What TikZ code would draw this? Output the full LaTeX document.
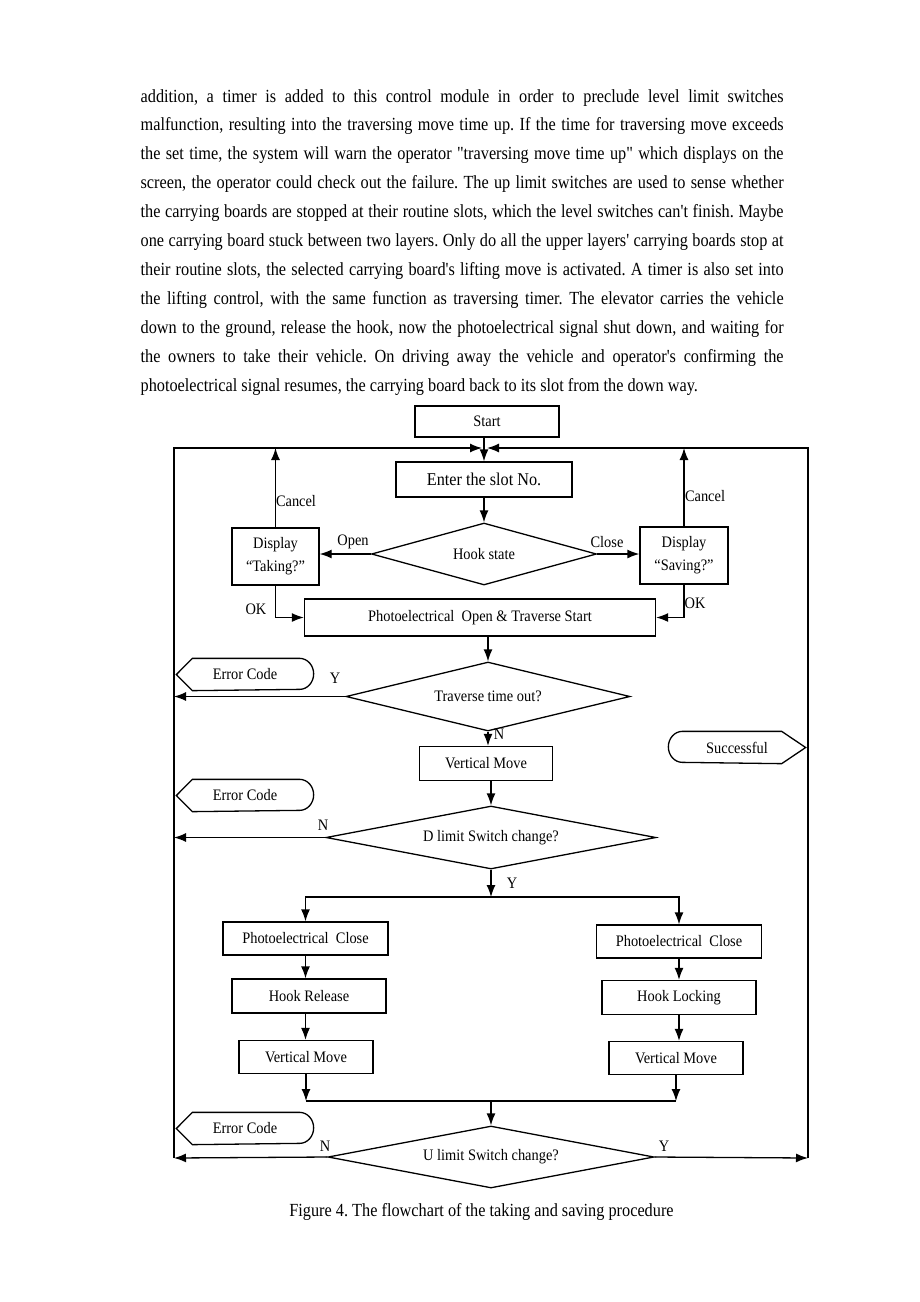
\documentclass[tikz,border=0pt]{standalone}
\usepackage{fontspec}
\setmainfont{Liberation Serif}[FakeStretch=0.88,Ligatures=TeXOff]
\newfontfamily\chartfont{Liberation Serif}[FakeStretch=0.9,Ligatures=TeXOff]
\usetikzlibrary{arrows.meta,shapes.geometric}
\newcommand\bodysize{\fontsize{18.5pt}{22pt}\selectfont}
\newcommand\chartsize{\fontsize{16pt}{23pt}\selectfont}
\frenchspacing
\tikzset{
  box/.style={draw, rectangle, inner sep=0pt, align=center, font=\chartfont\chartsize},
  choice/.style={draw, diamond, aspect=4, inner sep=0pt, font=\chartfont\chartsize},
  lbl/.style={inner sep=0pt, font=\chartfont\chartsize},
  term/.style={inner sep=0pt, minimum width=136pt, minimum height=31pt, font=\chartfont\chartsize},
}
\begin{document}
\begin{tikzpicture}[x=1pt, y=-1pt, >={Latex[length=12pt,width=9pt]}, line width=1.3pt]
\fill[white] (0,0) rectangle (920,1302);

% text above the figure
\foreach \t [count=\i from 0] in {%
  {addition, a timer is added to this control module in order to preclude level limit switches},
  {malfunction, resulting into the traversing move time up. If the time for traversing move exceeds},
  {the set time, the system will warn the operator "traversing move time up" which displays on the},
  {screen, the operator could check out the failure. The up limit switches are used to sense whether},
  {the carrying boards are stopped at their routine slots, which the level switches can't finish. Maybe},
  {one carrying board stuck between two layers. Only do all the upper layers' carrying boards stop at},
  {their routine slots, the selected carrying board's lifting move is activated. A timer is also set into},
  {the lifting control, with the same function as traversing timer. The elevator carries the vehicle},
  {down to the ground, release the hook, now the photoelectrical signal shut down, and waiting for},
  {the owners to take their vehicle. On driving away the vehicle and operator's confirming the}}
  \node[anchor=base west, inner sep=0pt, font=\bodysize] (par\i) at (140,{102+28.95*\i}) {\makebox[643pt][s]{\t}};
\node[anchor=base west, inner sep=0pt, font=\bodysize] (par10) at (140,391.5) {photoelectrical signal resumes, the carrying board back to its slot from the down way.};

% corners of the outer loop
\coordinate (tl) at (174,448);
\coordinate (tr) at (808,448);
\coordinate (bl) at (174,1158);
\coordinate (br) at (808,1158);
\coordinate (jl) at (482,448);
\coordinate (jr) at (487,448);
\coordinate (split) at (491,897);
\coordinate (merge) at (491,1101);

% boxes
\node[box, minimum width=144pt, minimum height=31pt] (start) at (487,421.5) {Start};
\node[box, minimum width=176pt, minimum height=35pt, font=\chartfont\fontsize{18pt}{22pt}\selectfont] (enter) at (484,479.5) {Enter the slot No.};
\node[choice, minimum width=225pt, minimum height=62pt] (hook) at (484,554) {Hook state};
\node[box, minimum width=87pt, minimum height=57pt] (take) at (275.5,556.5) {Display\\“Taking?”};
\node[box, minimum width=88pt, minimum height=57pt] (save) at (684,555.5) {Display\\“Saving?”};
\node[box, minimum width=351pt, minimum height=37pt] (photo) at (480,617.5) {Photoelectrical\ \ Open \& Traverse Start};
\node[choice, minimum width=284pt, minimum height=69pt] (trav) at (488,696.5) {Traverse time out?};
\node[box, minimum width=133pt, minimum height=34pt] (vmove) at (486,763.5) {Vertical Move};
\node[choice, minimum width=330pt, minimum height=63pt] (dlim) at (491,837.5) {D limit Switch change?};
\node[box, minimum width=165pt, minimum height=33pt] (pcl) at (305.5,938.5) {Photoelectrical\ \ Close};
\node[box, minimum width=165pt, minimum height=33pt] (pcr) at (679,941.5) {Photoelectrical\ \ Close};
\node[box, minimum width=154pt, minimum height=34pt] (hrel) at (309,996) {Hook Release};
\node[box, minimum width=154pt, minimum height=34pt] (hlock) at (679,997.5) {Hook Locking};
\node[box, minimum width=134pt, minimum height=33pt] (vml) at (306,1057) {Vertical Move};
\node[box, minimum width=134pt, minimum height=33pt] (vmr) at (676,1058) {Vertical Move};
\node[choice, minimum width=326pt, minimum height=62pt] (ulim) at (491,1157) {U limit Switch change?};

% terminals
\node[term] (err1) at (245,674.5) {Error Code};
\node[term] (err2) at (245,795.5) {Error Code};
\node[term] (err3) at (245,1128.5) {Error Code};
\node[term] (succ) at (737,747.5) {Successful};
\foreach \e in {err1,err2,err3}
  \draw (\e.west) -- ([xshift=16pt]\e.north west) -- ([xshift=-14pt]\e.north east)
    arc[start angle=90, end angle=-90, x radius=14pt, y radius=15.5pt]
    -- ([xshift=16pt]\e.south west) -- cycle;
\draw (succ.east) -- ([xshift=-24pt]succ.north east) -- ([xshift=14pt]succ.north west)
  arc[start angle=90, end angle=270, x radius=14pt, y radius=15.5pt]
  -- ([xshift=-24pt]succ.south east) -- cycle;

% labels
\node[lbl] (lopen) at (353,542) {Open};
\node[lbl] (lclose) at (607,542) {Close};
\node[lbl] (lcanl) at (296,501) {Cancel};
\node[lbl] (lcanr) at (705,496) {Cancel};
\node[lbl] (lokl) at (256,609) {OK};
\node[lbl] (lokr) at (695,603) {OK};
\node[lbl] (ly1) at (335,678) {Y};
\node[lbl] (ln1) at (499,734) {N};
\node[lbl] (ln2) at (323,825) {N};
\node[lbl] (ly2) at (512,883) {Y};
\node[lbl] (ln3) at (325,1146) {N};
\node[lbl] (ly3) at (664,1146) {Y};

% connectors
\draw[->] (bl) -- (tl) -- (jl);
\draw[->] (br) -- (tr) -- (jr);
\draw[->] (start.south -| enter.north) -- (enter.north);
\draw[->] (enter) -- (hook);
\draw[->] (hook.west) -- (hook.west -| take.east);
\draw[->] (hook.east) -- (hook.east -| save.west);
\draw[->] (take.north) -- (take.north |- tl);
\draw[->] (save.north) -- (save.north |- tr);
\draw[->] (take.south) |- (photo.west);
\draw[->] (save.south) |- (photo.east);
\draw[->] (trav.north |- photo.south) -- (trav.north);
\draw[->] (trav.west) -- (trav.west -| tl);
\draw[->] (trav.south) -- (trav.south |- vmove.north);
\draw[->] (dlim.north |- vmove.south) -- (dlim.north);
\draw[->] (dlim.west) -- (dlim.west -| tl);
\draw[->] (dlim.south) -- (split);
\draw[->] (split) -| (pcl.north);
\draw[->] (split) -| (pcr.north);
\draw[->] (pcl.south) -- (pcl.south |- hrel.north);
\draw[->] (hrel.south -| pcl.south) -- (vml.north -| pcl.south);
\draw[->] (pcr.south) -- (pcr.south |- hlock.north);
\draw[->] (hlock.south -| pcr.south) -- (vmr.north -| pcr.south);
\draw[->] (vml.south) -- (vml.south |- merge);
\draw[->] (vmr.south) -- (vmr.south |- merge);
\draw (vml.south |- merge) -- (vmr.south |- merge);
\draw[->] (merge) -- (ulim.north);
\draw[->] (ulim.west) -- (bl);
\draw[->] (ulim.east) -- (br);

\node[anchor=base, inner sep=0pt, font=\bodysize] (caption) at (481.5,1216) {Figure 4. The flowchart of the taking and saving procedure};
\end{tikzpicture}
\end{document}
